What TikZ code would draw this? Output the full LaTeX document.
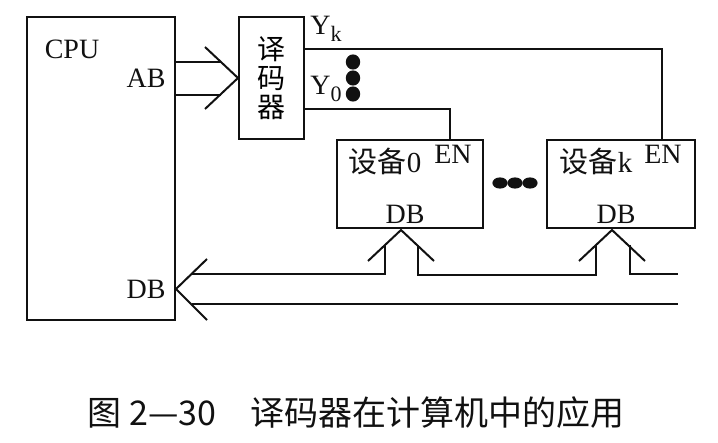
\documentclass[tikz,border=0pt]{standalone}
\usepackage{fontspec}
\usepackage{tikz}
\usepackage{xcolor}
\setmainfont{Liberation Serif}
\newfontfamily\cjk{Noto Sans CJK SC}
\usetikzlibrary{calc}
\definecolor{ink}{HTML}{111111}
\newcommand{\lowsub}[1]{\raisebox{-0.5ex}{\fontsize{11}{12}\selectfont #1}}
\tikzset{
  unitbox/.style={draw=ink,line width=1pt,inner sep=0pt,align=center},
  buslink/.style={draw=ink,line width=1pt},
  sigline/.style={draw=ink,line width=1pt},
  tag/.style={font=\fontsize{14}{16}\selectfont,text=ink,inner sep=0pt},
  cjktag/.style={font=\fontsize{14.5}{16}\selectfont\cjk,text=ink,inner sep=0pt},
  blob/.style={fill=ink}
}

\begin{document}
\begin{tikzpicture}[x=0.5pt,y=-0.5pt]
  \useasboundingbox (0,0) rectangle (718,443);

  \node[unitbox,minimum width=74pt,minimum height=151.5pt] (cpu) at (101,168.5) {};
  \node[unitbox,minimum width=32.5pt,minimum height=61pt,
        font=\fontsize{14}{14.5}\selectfont\cjk] (dec) at (271.5,78) {译\\码\\器};
  \node[unitbox,minimum width=73pt,minimum height=44pt] (dev0) at (410,184) {};
  \node[unitbox,minimum width=74pt,minimum height=44pt] (devk) at (621,184) {};

  \node[tag] (cpulbl) at (72,49) {CPU};
  \node[tag] (ablbl) at (146,78) {AB};
  \node[tag] (dblbl) at (146,289) {DB};
  \node[tag] (yklbl) at (326,29) {Y\lowsub{k}};
  \node[tag] (y0lbl) at (326,89) {Y\lowsub{0}};
  \node[cjktag] (dev0lbl) at (385,161) {设备{\rmfamily 0}};
  \node[tag] (en0lbl) at (453,154) {EN};
  \node[tag] (db0lbl) at (405,214) {DB};
  \node[cjktag] (devklbl) at (596,161) {设备{\rmfamily k}};
  \node[tag] (enklbl) at (663,154) {EN};
  \node[tag] (dbklbl) at (616,214) {DB};

  \draw[sigline] (dec.east |- 0,49) -| ($(devk.north east)+(-34,0)$);
  \draw[sigline] (dec.east |- 0,109) -| ($(dev0.north east)+(-34,0)$);
  \foreach \y in {62,78,94} {
    \fill[blob] (353,\y) ellipse [x radius=3.6pt,y radius=3.8pt];
  }
  \foreach \x in {500,515,530} {
    \fill[blob] (\x,183) ellipse [x radius=3.8pt,y radius=2.8pt];
  }

  \draw[buslink] (cpu.east |- 0,62) -- (221,62);
  \draw[buslink] (cpu.east |- 0,95) -- (221,95);
  \draw[buslink] (205,47) -- (dec.west) -- (205,109);

  \coordinate (cpudb) at (cpu.east |- 0,289);
  \coordinate (busend) at (678,274);
  \draw[buslink] ($(cpudb)+(31,-30)$) -- (cpudb) -- ($(cpudb)+(31,31)$);
  \draw[buslink] ($(cpudb)+(15.5,15)$) -- (busend |- 0,304);
  \draw[buslink] ($(cpudb)+(15.5,-15)$) -| ($(dev0.south)+(-25,16)$);
  \draw[buslink] ($(dev0.south)+(8,16)$) |- ($(devk.south)+(-25,46)$) -- ($(devk.south)+(-25,16)$);
  \draw[buslink] ($(devk.south)+(9,16)$) |- (busend);
  \foreach \d in {dev0,devk} {
    \draw[buslink] ($(\d.south)+(-42,32)$) -- ($(\d.south)+(-9,1)$) -- ($(\d.south)+(24,32)$);
  }

  \node[font=\fontsize{17}{19}\selectfont\cjk,text=ink,inner sep=0pt] (caption) at (356,413)
    {图 2—30\quad 译码器在计算机中的应用};
\end{tikzpicture}
\end{document}
